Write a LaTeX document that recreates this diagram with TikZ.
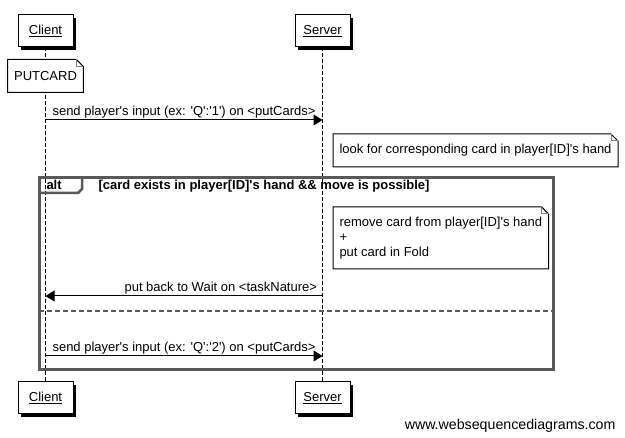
\documentclass[tikz,border=0pt]{standalone}
\usepackage{fontspec}
\setmainfont{Liberation Sans}[Ligatures=TeXOff]
\usepackage{tikz}
\usetikzlibrary{shapes,arrows.meta,shadows}
\tikzstyle{actor} = [draw, fill=white, rectangle, inner sep=0pt,
minimum height=32pt, minimum width=55pt,
drop shadow={shadow xshift=3pt, shadow yshift=-3pt, fill=black, opacity=1}]
\tikzstyle{lifeline} = [dash pattern=on 3.5pt off 2.5pt, line width=1pt]
\tikzstyle{note} = [rectangle, fill=white, align=left, inner xsep=6pt, minimum height=32pt]
\tikzstyle{msg} = [-{Triangle[length=9pt,width=11pt]}, line width=1pt]
\tikzstyle{lbl} = [above, inner sep=1pt]
\tikzstyle{frame} = [draw=black!65, line width=3pt]
\newcommand{\dogear}[1]{%
  \draw (#1.north west) -- ([xshift=-7pt]#1.north east) -- ([yshift=-7pt]#1.north east)
    -- (#1.south east) -- (#1.south west) -- cycle;
  \draw [black!50] ([xshift=-7pt]#1.north east) -- ([xshift=-7pt,yshift=-7pt]#1.north east)
    -- ([yshift=-7pt]#1.north east);}

\begin{document}
\begin{tikzpicture}[x=1pt, y=-1pt, line width=1pt, font=\fontsize{13pt}{15pt}\selectfont]
		\useasboundingbox (0,0) rectangle (625,438);
		% actors
		\node [actor] (client) at (45.5,31) {\underline{Client}};
		\node [actor, right of = client, node distance=277pt] (server) {\underline{Server}};
		\node [actor, below of = client, node distance=367pt] (client_b) {\underline{Client}};
		\node [actor, below of = server, node distance=367pt] (server_b) {\underline{Server}};
		\draw [lifeline] (client) -- (client_b);
		\draw [lifeline] (server) -- (server_b);

		\node [note, below of = client, node distance=45pt, minimum width=70pt] (putcard) {PUTCARD};
		\dogear{putcard}

		% first request
		\coordinate (c_m1) at (client |- 0,120);
		\coordinate (s_m1) at (server |- 0,120);
		\draw [msg] (c_m1) -- node[lbl] {send player's input (ex: 'Q':'1') on <putCards>} (s_m1);

		\node [note, anchor=north west] (n1) at (333,134) {look for corresponding card in player[ID]'s hand};
		\dogear{n1}

		% alt frame
		\coordinate (f_nw) at (39,178);
		\coordinate (f_se) at (553,370);
		\draw [frame] (f_nw) rectangle (f_se);
		\draw [frame, line width=2.5pt, line join=round] (39,193) -- (78,193) -- (82,189) -- (82,178);
		\node [anchor=base west, inner sep=0pt, font=\fontsize{13pt}{15pt}\selectfont\bfseries] (alt) at (46,190) {alt};
		\node [anchor=base west, inner sep=0pt, font=\fontsize{13pt}{15pt}\selectfont\bfseries] (cond) at (98,190)
			{[card exists in player[ID]'s hand \&\& move is possible]};

		\node [note, anchor=north west, minimum height=61pt] (n2) at (333,207)
			{remove card from player[ID]'s hand\\+\\put card in Fold};
		\dogear{n2}

		\coordinate (s_m2) at (server |- 0,296);
		\coordinate (c_m2) at (client |- 0,296);
		\draw [msg] (s_m2) -- node[lbl, pos=0, anchor=south east, xshift=-4pt] {put back to Wait on <taskNature>} (c_m2);

		\draw [frame, line width=2.5pt, dash pattern=on 5pt off 3pt] (f_nw |- 0,311) -- (f_se |- 0,311);

		% second request
		\coordinate (c_m3) at (client |- 0,356);
		\coordinate (s_m3) at (server |- 0,356);
		\draw [msg] (c_m3) -- node[lbl] {send player's input (ex: 'Q':'2') on <putCards>} (s_m3);

		\node [anchor=base east, inner sep=0pt, font=\fontsize{14.2pt}{16pt}\selectfont] (wsd) at (616,430) {www.websequencediagrams.com};
\end{tikzpicture}
\end{document}
